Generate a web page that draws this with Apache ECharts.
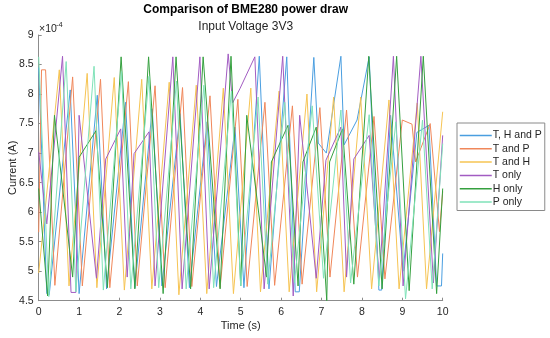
<!DOCTYPE html>
<html>
<head>
<meta charset="utf-8">
<script src="https://cdn.jsdelivr.net/npm/echarts@6/dist/echarts.min.js"></script>
<style>html,body{margin:0;padding:0;background:#fff;}#c{width:550px;height:338px;}</style>
</head>
<body>
<div id="c"></div>
<script>
// Series names
const seriesNames = ['T, H and P', 'T and P', 'T and H', 'T only', 'H only', 'P only'];
// Axis ticks
const xTicks = [0,1,2,3,4,5,6,7,8,9,10];
const yTicks = [4.5,5,5.5,6,6.5,7,7.5,8,8.5,9];
// Data: [time (s), current (x1e-4 A)]
const tHP = [[0,8.45],[0.2,4.62],[0.26,4.6],[0.78,8.07],[1.0,4.62],[1.45,7.98],[1.68,4.7],[2.15,7.86],[2.38,4.72],[2.81,7.75],[3.05,4.75],[3.5,7.67],[3.73,4.72],[4.17,7.53],[4.4,4.74],[4.86,7.44],[5.08,4.72],[5.46,8.64],[5.7,4.7],[6.14,8.63],[6.35,4.65],[6.45,4.65],[6.81,8.62],[6.92,7.17],[7.12,7.0],[7.48,8.64],[7.56,7.14],[7.88,7.56],[8.18,8.63],[8.42,4.68],[8.49,4.68],[8.71,7.64],[9.02,5.0],[9.36,7.35],[9.66,7.47],[9.85,4.75],[9.97,4.75],[10,5.3]];
const tP = [[0,5.66],[0.07,8.41],[0.17,8.41],[0.4,4.76],[0.84,8.29],[1.08,4.75],[1.53,8.25],[1.76,4.72],[2.22,8.21],[2.44,4.75],[2.88,8.14],[3.13,4.72],[3.56,8.11],[3.79,4.74],[4.24,7.97],[4.49,4.72],[4.93,7.91],[5.16,4.74],[5.6,7.86],[5.84,4.76],[6.28,7.8],[6.52,4.78],[6.96,7.77],[7.21,4.9],[7.62,7.73],[7.89,4.9],[8.3,7.62],[8.57,4.87],[9.0,7.56],[9.24,7.49],[9.33,6.85],[9.69,7.5],[9.92,5.67],[10,6.35]];
const tH = [[0,4.97],[0.51,8.41],[0.75,4.75],[1.2,8.35],[1.44,4.72],[1.87,8.28],[2.12,4.68],[2.55,8.25],[2.8,4.7],[3.23,8.2],[3.47,4.6],[3.9,8.15],[4.16,4.62],[4.57,8.1],[4.82,4.62],[5.25,8.1],[5.49,4.65],[5.95,8.05],[6.2,4.65],[6.64,8.0],[6.88,4.65],[7.3,7.95],[7.56,4.65],[7.97,7.95],[8.24,4.7],[8.67,7.9],[8.92,4.7],[9.37,7.85],[9.6,4.7],[10,7.7]];
const tOnly = [[0,7.02],[0.2,5.8],[0.59,8.64],[0.8,4.64],[0.92,4.64],[1.0,7.64],[1.43,4.88],[1.66,6.9],[2.03,7.41],[2.19,4.9],[2.36,6.99],[2.73,7.36],[2.88,4.75],[3.32,8.63],[3.55,4.7],[3.99,8.63],[4.22,4.7],[4.69,8.68],[4.8,7.85],[4.98,8.09],[5.35,8.63],[5.58,4.7],[6.04,8.64],[6.3,4.58],[6.46,7.64],[6.87,4.88],[7.11,6.88],[7.48,7.44],[7.62,4.9],[7.8,6.9],[8.18,7.3],[8.43,4.85],[8.78,8.64],[9.02,4.75],[9.46,8.64],[9.77,4.8],[10,7.3]];
const hOnly = [[0,6.4],[0.22,4.58],[0.39,7.64],[0.84,4.9],[1.0,6.93],[1.42,7.38],[1.7,4.72],[2.04,8.63],[2.38,4.7],[2.72,8.63],[3.08,4.62],[3.4,8.63],[3.76,4.7],[4.07,8.63],[4.49,4.7],[4.76,8.64],[5.0,4.75],[5.15,7.64],[5.64,4.9],[5.76,6.85],[6.17,7.47],[6.42,4.75],[6.54,6.85],[6.87,7.44],[7.13,4.5],[7.2,6.85],[7.52,7.41],[7.8,4.78],[8.17,8.64],[8.5,4.7],[8.86,8.64],[9.17,4.67],[9.52,8.64],[9.85,4.62],[10,6.4]];
const pOnly = [[0,8.63],[0.25,4.57],[0.68,8.55],[0.92,4.65],[1.37,8.47],[1.6,4.68],[2.05,8.38],[2.28,4.7],[2.73,8.3],[2.97,4.72],[3.41,8.22],[3.65,4.7],[4.09,8.15],[4.33,4.72],[4.77,8.05],[5.0,4.75],[5.43,7.95],[5.67,4.78],[6.09,7.86],[6.33,4.8],[6.77,7.8],[7.05,4.88],[7.48,7.73],[7.72,4.8],[8.18,7.65],[8.42,4.75],[8.84,7.53],[9.08,4.53],[9.5,7.56],[9.74,4.7],[10,7.16]];

const allData = [tHP, tP, tH, tOnly, hOnly, pOnly];
const colors = ['#4a9ee0', '#f0875a', '#f6c453', '#a25cc2', '#35a03f', '#7fe2b8'];
const FONT = '"Liberation Sans", Arial, Helvetica, sans-serif';
const TXT = '#262626';
const AX = '#8c8c8c';

const chart = echarts.init(document.getElementById('c'), null, {renderer: 'canvas'});
chart.setOption({
  animation: false,
  backgroundColor: '#ffffff',
  color: colors,
  title: [
    {text: 'Comparison of BME280 power draw', left: 240.7, top: -1, textAlign: 'center',
     textStyle: {fontFamily: FONT, fontSize: 12, fontWeight: 'bold', color: '#000'}},
    {text: 'Input Voltage 3V3', left: 240.7, top: 16, textAlign: 'center',
     textStyle: {fontFamily: FONT, fontSize: 12, fontWeight: 'normal', color: TXT}}
  ],
  grid: {left: 38.7, right: 107.3, top: 35, bottom: 37.3, containLabel: false, outerBoundsMode: 'none'},
  legend: {
    orient: 'vertical', left: 457, top: 123,
    data: seriesNames,
    itemWidth: 32, itemHeight: 10, itemGap: 2.3,
    padding: [7, 3, 3, 2],
    borderColor: '#8a8a8a', borderWidth: 1, backgroundColor: '#fff',
    itemStyle: {opacity: 0},
    lineStyle: {width: 1.5},
    textStyle: {fontFamily: FONT, fontSize: 10.5, color: TXT, padding: [0, 0, 0, -4]}
  },
  xAxis: {
    type: 'value', min: 0, max: 10, interval: 1,
    name: 'Time (s)', nameLocation: 'middle', nameGap: 20, nameMoveOverlap: false,
    nameTextStyle: {fontFamily: FONT, fontSize: 11, color: TXT},
    axisLine: {show: true, lineStyle: {color: AX, width: 1}},
    axisTick: {show: true, inside: true, length: 3, lineStyle: {color: AX}},
    axisLabel: {fontFamily: FONT, fontSize: 10.5, color: TXT, margin: 6,
      formatter: v => xTicks.includes(v) ? String(v) : ''},
    splitLine: {show: false}
  },
  yAxis: {
    type: 'value', min: 4.5, max: 9, interval: 0.5,
    name: 'Current (A)', nameLocation: 'middle', nameGap: 20, nameMoveOverlap: false,
    nameTextStyle: {fontFamily: FONT, fontSize: 11, color: TXT},
    axisLine: {show: true, lineStyle: {color: AX, width: 1}},
    axisTick: {show: true, inside: true, length: 3, lineStyle: {color: AX}},
    axisLabel: {fontFamily: FONT, fontSize: 10.5, color: TXT, margin: 5,
      formatter: v => yTicks.includes(v) ? String(v) : ''},
    splitLine: {show: false}
  },
  graphic: [
    {type: 'text', left: 39, top: 24, style: {text: '×10', font: '10.5px ' + FONT, fill: TXT}},
    {type: 'text', left: 56, top: 20.5, style: {text: '-4', font: '7.5px ' + FONT, fill: TXT}}
  ],
  series: allData.map((d, i) => ({
    name: seriesNames[i], type: 'line', data: d, symbol: 'none', showSymbol: false,
    lineStyle: {width: 1, color: colors[i]}, itemStyle: {color: colors[i]},
    clip: true
  }))
});
</script>
</body>
</html>
